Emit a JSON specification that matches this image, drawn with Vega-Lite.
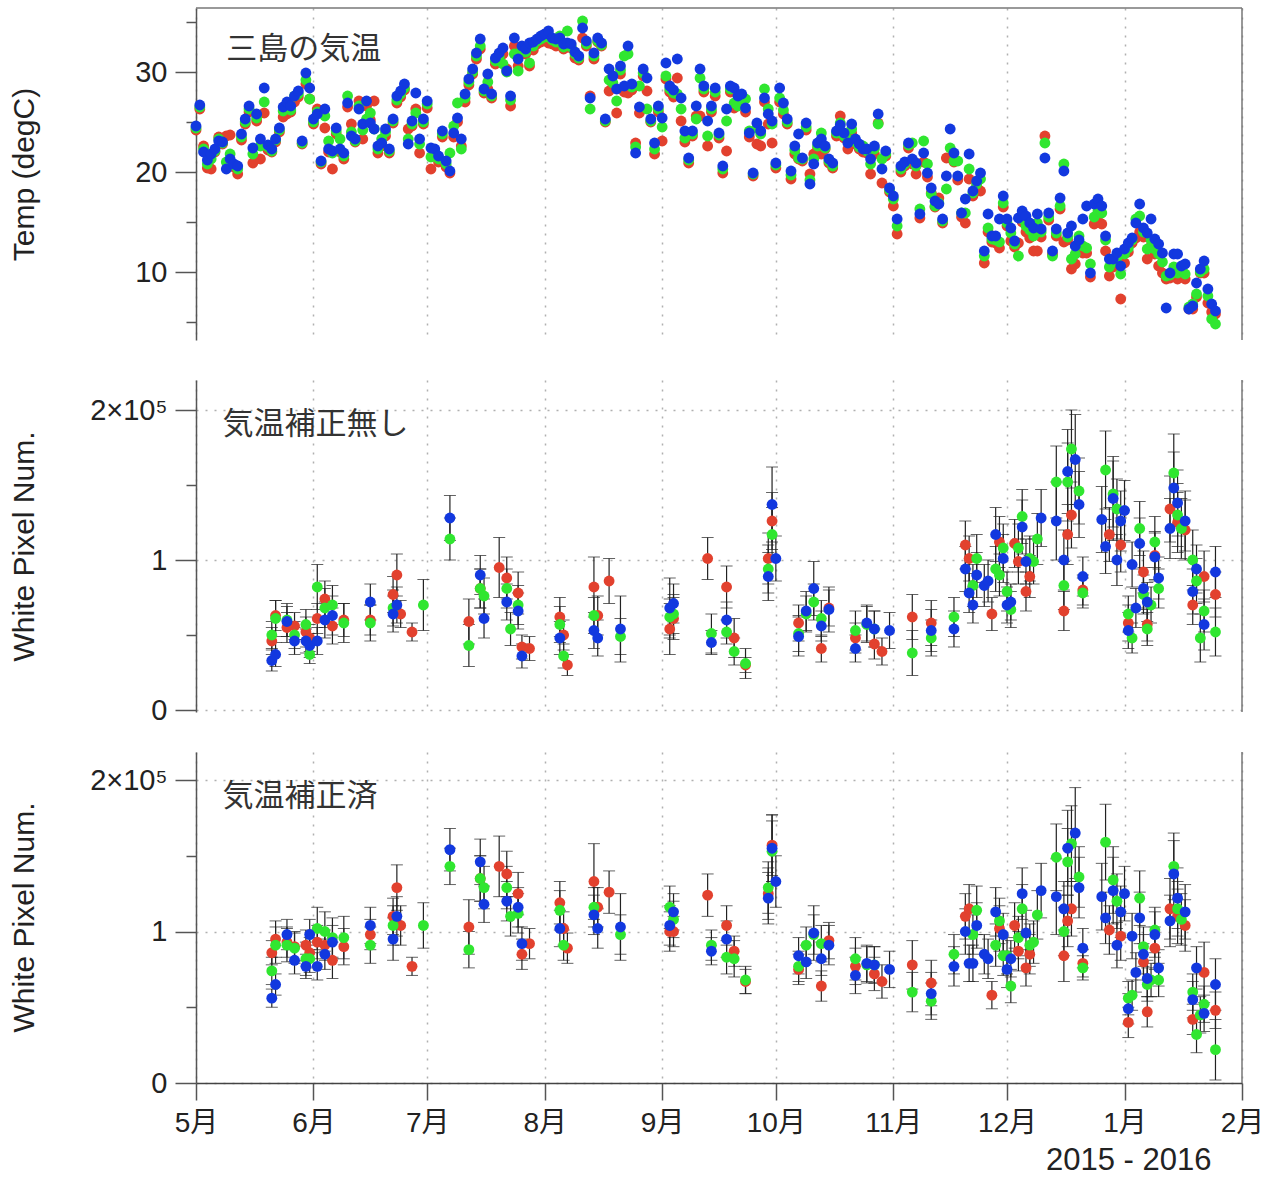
{
"$schema": "https://vega.github.io/schema/vega-lite/v6.json",
"background": "white",
"padding": {"left": 8, "top": 7, "right": 10, "bottom": 5},
"bounds": "flush",
"spacing": 40,
"config": {
  "view": {"stroke": null},
  "font": "Liberation Sans",
  "axis": {"domainColor": "#555", "domainWidth": 1.5, "tickColor": "#555", "tickWidth": 1.5, "labelColor": "#222", "titleColor": "#222", "labelFont": "Liberation Sans, Noto Sans CJK JP", "titleFont": "Liberation Sans", "labelFontSize": 29, "titleFontSize": 30, "titleFontWeight": "normal", "gridColor": "#b0b0b0", "gridDash": [2, 7], "gridWidth": 1.5}
},
"datasets": {
"temp": [
{"d":"2015-05-01","c":"R","t":24.2},{"d":"2015-05-01","c":"G","t":24.4},{"d":"2015-05-01","c":"B","t":24.6},
{"d":"2015-05-02","c":"R","t":26.3},{"d":"2015-05-02","c":"G","t":26.5},{"d":"2015-05-02","c":"B","t":26.7},
{"d":"2015-05-03","c":"R","t":22.6},{"d":"2015-05-03","c":"G","t":22.3},{"d":"2015-05-03","c":"B","t":22.0},
{"d":"2015-05-04","c":"R","t":20.4},{"d":"2015-05-04","c":"G","t":20.8},{"d":"2015-05-04","c":"B","t":21.2},
{"d":"2015-05-05","c":"R","t":20.3},{"d":"2015-05-05","c":"G","t":21.3},{"d":"2015-05-05","c":"B","t":21.8},
{"d":"2015-05-06","c":"R","t":22.0},{"d":"2015-05-06","c":"G","t":22.1},{"d":"2015-05-06","c":"B","t":22.3},
{"d":"2015-05-07","c":"R","t":23.5},{"d":"2015-05-07","c":"G","t":23.3},{"d":"2015-05-07","c":"B","t":23.1},
{"d":"2015-05-08","c":"R","t":22.8},{"d":"2015-05-08","c":"G","t":22.9},{"d":"2015-05-08","c":"B","t":23.0},
{"d":"2015-05-09","c":"R","t":23.6},{"d":"2015-05-09","c":"G","t":21.0},{"d":"2015-05-09","c":"B","t":20.3},
{"d":"2015-05-10","c":"R","t":23.7},{"d":"2015-05-10","c":"G","t":21.8},{"d":"2015-05-10","c":"B","t":21.3},
{"d":"2015-05-11","c":"R","t":20.5},{"d":"2015-05-11","c":"G","t":20.7},{"d":"2015-05-11","c":"B","t":20.8},
{"d":"2015-05-12","c":"R","t":19.8},{"d":"2015-05-12","c":"G","t":20.3},{"d":"2015-05-12","c":"B","t":20.6},
{"d":"2015-05-13","c":"R","t":23.2},{"d":"2015-05-13","c":"G","t":23.5},{"d":"2015-05-13","c":"B","t":23.8},
{"d":"2015-05-14","c":"R","t":24.8},{"d":"2015-05-14","c":"G","t":25.0},{"d":"2015-05-14","c":"B","t":25.3},
{"d":"2015-05-15","c":"R","t":26.0},{"d":"2015-05-15","c":"G","t":26.3},{"d":"2015-05-15","c":"B","t":26.6},
{"d":"2015-05-16","c":"R","t":20.9},{"d":"2015-05-16","c":"G","t":21.8},{"d":"2015-05-16","c":"B","t":22.4},
{"d":"2015-05-17","c":"R","t":25.1},{"d":"2015-05-17","c":"G","t":25.4},{"d":"2015-05-17","c":"B","t":25.8},
{"d":"2015-05-18","c":"R","t":21.3},{"d":"2015-05-18","c":"G","t":22.6},{"d":"2015-05-18","c":"B","t":23.3},
{"d":"2015-05-19","c":"R","t":25.9},{"d":"2015-05-19","c":"G","t":27.0},{"d":"2015-05-19","c":"B","t":28.4},
{"d":"2015-05-20","c":"R","t":22.2},{"d":"2015-05-20","c":"G","t":22.5},{"d":"2015-05-20","c":"B","t":22.7},
{"d":"2015-05-21","c":"R","t":22.0},{"d":"2015-05-21","c":"G","t":22.1},{"d":"2015-05-21","c":"B","t":22.3},
{"d":"2015-05-22","c":"R","t":23.0},{"d":"2015-05-22","c":"G","t":23.2},{"d":"2015-05-22","c":"B","t":23.3},
{"d":"2015-05-23","c":"R","t":24.0},{"d":"2015-05-23","c":"G","t":24.2},{"d":"2015-05-23","c":"B","t":24.4},
{"d":"2015-05-24","c":"R","t":25.5},{"d":"2015-05-24","c":"G","t":26.1},{"d":"2015-05-24","c":"B","t":26.5},
{"d":"2015-05-25","c":"R","t":25.8},{"d":"2015-05-25","c":"G","t":26.5},{"d":"2015-05-25","c":"B","t":27.0},
{"d":"2015-05-26","c":"R","t":26.0},{"d":"2015-05-26","c":"G","t":26.2},{"d":"2015-05-26","c":"B","t":26.6},
{"d":"2015-05-27","c":"R","t":27.0},{"d":"2015-05-27","c":"G","t":27.6},{"d":"2015-05-27","c":"B","t":27.6},
{"d":"2015-05-28","c":"R","t":27.5},{"d":"2015-05-28","c":"G","t":27.8},{"d":"2015-05-28","c":"B","t":28.1},
{"d":"2015-05-29","c":"R","t":22.8},{"d":"2015-05-29","c":"G","t":22.9},{"d":"2015-05-29","c":"B","t":23.1},
{"d":"2015-05-30","c":"R","t":28.8},{"d":"2015-05-30","c":"G","t":29.2},{"d":"2015-05-30","c":"B","t":29.9},
{"d":"2015-05-31","c":"R","t":27.3},{"d":"2015-05-31","c":"G","t":27.3},{"d":"2015-05-31","c":"B","t":28.4},
{"d":"2015-06-01","c":"R","t":24.8},{"d":"2015-06-01","c":"G","t":25.0},{"d":"2015-06-01","c":"B","t":25.3},
{"d":"2015-06-02","c":"R","t":26.3},{"d":"2015-06-02","c":"G","t":26.0},{"d":"2015-06-02","c":"B","t":25.8},
{"d":"2015-06-03","c":"R","t":20.8},{"d":"2015-06-03","c":"G","t":21.0},{"d":"2015-06-03","c":"B","t":21.1},
{"d":"2015-06-04","c":"R","t":24.4},{"d":"2015-06-04","c":"G","t":25.6},{"d":"2015-06-04","c":"B","t":26.3},
{"d":"2015-06-05","c":"R","t":22.0},{"d":"2015-06-05","c":"G","t":23.1},{"d":"2015-06-05","c":"B","t":22.3},
{"d":"2015-06-06","c":"R","t":20.3},{"d":"2015-06-06","c":"G","t":21.9},{"d":"2015-06-06","c":"B","t":22.1},
{"d":"2015-06-07","c":"R","t":23.8},{"d":"2015-06-07","c":"G","t":24.1},{"d":"2015-06-07","c":"B","t":24.4},
{"d":"2015-06-08","c":"R","t":22.0},{"d":"2015-06-08","c":"G","t":23.3},{"d":"2015-06-08","c":"B","t":22.3},
{"d":"2015-06-09","c":"R","t":21.3},{"d":"2015-06-09","c":"G","t":21.6},{"d":"2015-06-09","c":"B","t":21.9},
{"d":"2015-06-10","c":"R","t":26.5},{"d":"2015-06-10","c":"G","t":27.6},{"d":"2015-06-10","c":"B","t":26.9},
{"d":"2015-06-11","c":"R","t":24.8},{"d":"2015-06-11","c":"G","t":24.0},{"d":"2015-06-11","c":"B","t":23.6},
{"d":"2015-06-12","c":"R","t":23.0},{"d":"2015-06-12","c":"G","t":23.1},{"d":"2015-06-12","c":"B","t":23.3},
{"d":"2015-06-13","c":"R","t":27.1},{"d":"2015-06-13","c":"G","t":26.6},{"d":"2015-06-13","c":"B","t":26.3},
{"d":"2015-06-14","c":"R","t":23.3},{"d":"2015-06-14","c":"G","t":24.2},{"d":"2015-06-14","c":"B","t":24.8},
{"d":"2015-06-15","c":"R","t":26.6},{"d":"2015-06-15","c":"G","t":25.3},{"d":"2015-06-15","c":"B","t":27.1},
{"d":"2015-06-16","c":"R","t":25.2},{"d":"2015-06-16","c":"G","t":25.9},{"d":"2015-06-16","c":"B","t":24.9},
{"d":"2015-06-17","c":"R","t":27.1},{"d":"2015-06-17","c":"G","t":24.3},{"d":"2015-06-17","c":"B","t":24.3},
{"d":"2015-06-18","c":"R","t":21.9},{"d":"2015-06-18","c":"G","t":22.3},{"d":"2015-06-18","c":"B","t":22.6},
{"d":"2015-06-19","c":"R","t":22.6},{"d":"2015-06-19","c":"G","t":23.3},{"d":"2015-06-19","c":"B","t":22.9},
{"d":"2015-06-20","c":"R","t":23.6},{"d":"2015-06-20","c":"G","t":24.0},{"d":"2015-06-20","c":"B","t":24.3},
{"d":"2015-06-21","c":"R","t":21.9},{"d":"2015-06-21","c":"G","t":22.1},{"d":"2015-06-21","c":"B","t":22.3},
{"d":"2015-06-22","c":"R","t":24.9},{"d":"2015-06-22","c":"G","t":25.1},{"d":"2015-06-22","c":"B","t":25.3},
{"d":"2015-06-23","c":"R","t":26.9},{"d":"2015-06-23","c":"G","t":27.2},{"d":"2015-06-23","c":"B","t":27.6},
{"d":"2015-06-24","c":"R","t":27.5},{"d":"2015-06-24","c":"G","t":27.8},{"d":"2015-06-24","c":"B","t":28.1},
{"d":"2015-06-25","c":"R","t":28.2},{"d":"2015-06-25","c":"G","t":28.4},{"d":"2015-06-25","c":"B","t":28.8},
{"d":"2015-06-26","c":"R","t":24.3},{"d":"2015-06-26","c":"G","t":23.3},{"d":"2015-06-26","c":"B","t":22.8},
{"d":"2015-06-27","c":"R","t":24.6},{"d":"2015-06-27","c":"G","t":24.8},{"d":"2015-06-27","c":"B","t":25.1},
{"d":"2015-06-28","c":"R","t":26.3},{"d":"2015-06-28","c":"G","t":25.9},{"d":"2015-06-28","c":"B","t":27.9},
{"d":"2015-06-29","c":"R","t":21.9},{"d":"2015-06-29","c":"G","t":22.8},{"d":"2015-06-29","c":"B","t":23.3},
{"d":"2015-06-30","c":"R","t":24.8},{"d":"2015-06-30","c":"G","t":25.0},{"d":"2015-06-30","c":"B","t":25.3},
{"d":"2015-07-01","c":"R","t":26.4},{"d":"2015-07-01","c":"G","t":26.8},{"d":"2015-07-01","c":"B","t":27.1},
{"d":"2015-07-02","c":"R","t":20.3},{"d":"2015-07-02","c":"G","t":21.5},{"d":"2015-07-02","c":"B","t":22.4},
{"d":"2015-07-03","c":"R","t":21.8},{"d":"2015-07-03","c":"G","t":22.0},{"d":"2015-07-03","c":"B","t":22.3},
{"d":"2015-07-04","c":"R","t":21.0},{"d":"2015-07-04","c":"G","t":21.3},{"d":"2015-07-04","c":"B","t":21.6},
{"d":"2015-07-05","c":"R","t":23.5},{"d":"2015-07-05","c":"G","t":23.8},{"d":"2015-07-05","c":"B","t":24.1},
{"d":"2015-07-06","c":"R","t":20.5},{"d":"2015-07-06","c":"G","t":20.8},{"d":"2015-07-06","c":"B","t":21.1},
{"d":"2015-07-07","c":"R","t":19.9},{"d":"2015-07-07","c":"G","t":21.9},{"d":"2015-07-07","c":"B","t":20.1},
{"d":"2015-07-08","c":"R","t":23.5},{"d":"2015-07-08","c":"G","t":24.6},{"d":"2015-07-08","c":"B","t":23.9},
{"d":"2015-07-09","c":"R","t":25.0},{"d":"2015-07-09","c":"G","t":26.9},{"d":"2015-07-09","c":"B","t":25.4},
{"d":"2015-07-10","c":"R","t":22.6},{"d":"2015-07-10","c":"G","t":22.3},{"d":"2015-07-10","c":"B","t":23.3},
{"d":"2015-07-11","c":"R","t":27.0},{"d":"2015-07-11","c":"G","t":27.4},{"d":"2015-07-11","c":"B","t":27.8},
{"d":"2015-07-12","c":"R","t":28.7},{"d":"2015-07-12","c":"G","t":29.0},{"d":"2015-07-12","c":"B","t":29.3},
{"d":"2015-07-13","c":"R","t":29.8},{"d":"2015-07-13","c":"G","t":30.0},{"d":"2015-07-13","c":"B","t":30.3},
{"d":"2015-07-14","c":"R","t":31.3},{"d":"2015-07-14","c":"G","t":31.6},{"d":"2015-07-14","c":"B","t":31.9},
{"d":"2015-07-15","c":"R","t":32.3},{"d":"2015-07-15","c":"G","t":32.6},{"d":"2015-07-15","c":"B","t":33.3},
{"d":"2015-07-16","c":"R","t":27.9},{"d":"2015-07-16","c":"G","t":28.1},{"d":"2015-07-16","c":"B","t":28.3},
{"d":"2015-07-17","c":"R","t":28.3},{"d":"2015-07-17","c":"G","t":29.0},{"d":"2015-07-17","c":"B","t":29.8},
{"d":"2015-07-18","c":"R","t":27.4},{"d":"2015-07-18","c":"G","t":27.6},{"d":"2015-07-18","c":"B","t":27.8},
{"d":"2015-07-19","c":"R","t":30.8},{"d":"2015-07-19","c":"G","t":31.1},{"d":"2015-07-19","c":"B","t":31.4},
{"d":"2015-07-20","c":"R","t":31.2},{"d":"2015-07-20","c":"G","t":31.5},{"d":"2015-07-20","c":"B","t":31.9},
{"d":"2015-07-21","c":"R","t":31.8},{"d":"2015-07-21","c":"G","t":30.8},{"d":"2015-07-21","c":"B","t":32.4},
{"d":"2015-07-22","c":"R","t":30.3},{"d":"2015-07-22","c":"G","t":30.0},{"d":"2015-07-22","c":"B","t":30.1},
{"d":"2015-07-23","c":"R","t":26.6},{"d":"2015-07-23","c":"G","t":27.2},{"d":"2015-07-23","c":"B","t":27.6},
{"d":"2015-07-24","c":"R","t":32.6},{"d":"2015-07-24","c":"G","t":31.8},{"d":"2015-07-24","c":"B","t":33.4},
{"d":"2015-07-25","c":"R","t":30.6},{"d":"2015-07-25","c":"G","t":30.1},{"d":"2015-07-25","c":"B","t":31.3},
{"d":"2015-07-26","c":"R","t":31.9},{"d":"2015-07-26","c":"G","t":32.3},{"d":"2015-07-26","c":"B","t":32.6},
{"d":"2015-07-27","c":"R","t":31.8},{"d":"2015-07-27","c":"G","t":32.0},{"d":"2015-07-27","c":"B","t":32.3},
{"d":"2015-07-28","c":"R","t":30.6},{"d":"2015-07-28","c":"G","t":30.9},{"d":"2015-07-28","c":"B","t":32.9},
{"d":"2015-07-29","c":"R","t":32.2},{"d":"2015-07-29","c":"G","t":32.6},{"d":"2015-07-29","c":"B","t":33.0},
{"d":"2015-07-30","c":"R","t":32.8},{"d":"2015-07-30","c":"G","t":33.1},{"d":"2015-07-30","c":"B","t":33.3},
{"d":"2015-07-31","c":"R","t":33.0},{"d":"2015-07-31","c":"G","t":33.3},{"d":"2015-07-31","c":"B","t":33.6},
{"d":"2015-08-01","c":"R","t":33.2},{"d":"2015-08-01","c":"G","t":33.5},{"d":"2015-08-01","c":"B","t":33.8},
{"d":"2015-08-02","c":"R","t":32.9},{"d":"2015-08-02","c":"G","t":33.7},{"d":"2015-08-02","c":"B","t":34.1},
{"d":"2015-08-03","c":"R","t":32.8},{"d":"2015-08-03","c":"G","t":33.2},{"d":"2015-08-03","c":"B","t":33.4},
{"d":"2015-08-04","c":"R","t":32.6},{"d":"2015-08-04","c":"G","t":33.0},{"d":"2015-08-04","c":"B","t":33.3},
{"d":"2015-08-05","c":"R","t":33.0},{"d":"2015-08-05","c":"G","t":33.6},{"d":"2015-08-05","c":"B","t":33.4},
{"d":"2015-08-06","c":"R","t":32.3},{"d":"2015-08-06","c":"G","t":32.5},{"d":"2015-08-06","c":"B","t":32.8},
{"d":"2015-08-07","c":"R","t":32.5},{"d":"2015-08-07","c":"G","t":34.1},{"d":"2015-08-07","c":"B","t":32.9},
{"d":"2015-08-08","c":"R","t":32.4},{"d":"2015-08-08","c":"G","t":32.5},{"d":"2015-08-08","c":"B","t":32.8},
{"d":"2015-08-09","c":"R","t":31.4},{"d":"2015-08-09","c":"G","t":31.8},{"d":"2015-08-09","c":"B","t":32.0},
{"d":"2015-08-10","c":"R","t":31.2},{"d":"2015-08-10","c":"G","t":31.4},{"d":"2015-08-10","c":"B","t":31.6},
{"d":"2015-08-11","c":"R","t":33.4},{"d":"2015-08-11","c":"G","t":35.1},{"d":"2015-08-11","c":"B","t":34.4},
{"d":"2015-08-12","c":"R","t":32.6},{"d":"2015-08-12","c":"G","t":32.8},{"d":"2015-08-12","c":"B","t":33.1},
{"d":"2015-08-13","c":"R","t":27.6},{"d":"2015-08-13","c":"G","t":26.3},{"d":"2015-08-13","c":"B","t":27.4},
{"d":"2015-08-14","c":"R","t":31.3},{"d":"2015-08-14","c":"G","t":31.6},{"d":"2015-08-14","c":"B","t":31.9},
{"d":"2015-08-15","c":"R","t":33.0},{"d":"2015-08-15","c":"G","t":33.1},{"d":"2015-08-15","c":"B","t":33.4},
{"d":"2015-08-16","c":"R","t":32.6},{"d":"2015-08-16","c":"G","t":32.7},{"d":"2015-08-16","c":"B","t":32.9},
{"d":"2015-08-17","c":"R","t":25.0},{"d":"2015-08-17","c":"G","t":25.1},{"d":"2015-08-17","c":"B","t":25.3},
{"d":"2015-08-18","c":"R","t":28.1},{"d":"2015-08-18","c":"G","t":29.2},{"d":"2015-08-18","c":"B","t":30.3},
{"d":"2015-08-19","c":"R","t":28.6},{"d":"2015-08-19","c":"G","t":28.9},{"d":"2015-08-19","c":"B","t":29.6},
{"d":"2015-08-20","c":"R","t":25.9},{"d":"2015-08-20","c":"G","t":27.1},{"d":"2015-08-20","c":"B","t":28.3},
{"d":"2015-08-21","c":"R","t":29.8},{"d":"2015-08-21","c":"G","t":30.2},{"d":"2015-08-21","c":"B","t":30.6},
{"d":"2015-08-22","c":"R","t":28.0},{"d":"2015-08-22","c":"G","t":31.6},{"d":"2015-08-22","c":"B","t":28.6},
{"d":"2015-08-23","c":"R","t":27.9},{"d":"2015-08-23","c":"G","t":31.8},{"d":"2015-08-23","c":"B","t":32.6},
{"d":"2015-08-24","c":"R","t":28.2},{"d":"2015-08-24","c":"G","t":28.5},{"d":"2015-08-24","c":"B","t":28.8},
{"d":"2015-08-25","c":"R","t":22.9},{"d":"2015-08-25","c":"G","t":22.5},{"d":"2015-08-25","c":"B","t":21.9},
{"d":"2015-08-26","c":"R","t":25.9},{"d":"2015-08-26","c":"G","t":28.6},{"d":"2015-08-26","c":"B","t":26.5},
{"d":"2015-08-27","c":"R","t":29.6},{"d":"2015-08-27","c":"G","t":29.9},{"d":"2015-08-27","c":"B","t":30.3},
{"d":"2015-08-28","c":"R","t":28.1},{"d":"2015-08-28","c":"G","t":26.3},{"d":"2015-08-28","c":"B","t":29.4},
{"d":"2015-08-29","c":"R","t":25.0},{"d":"2015-08-29","c":"G","t":25.1},{"d":"2015-08-29","c":"B","t":25.3},
{"d":"2015-08-30","c":"R","t":21.8},{"d":"2015-08-30","c":"G","t":22.3},{"d":"2015-08-30","c":"B","t":22.9},
{"d":"2015-08-31","c":"R","t":26.0},{"d":"2015-08-31","c":"G","t":26.3},{"d":"2015-08-31","c":"B","t":26.6},
{"d":"2015-09-01","c":"R","t":23.1},{"d":"2015-09-01","c":"G","t":24.5},{"d":"2015-09-01","c":"B","t":25.4},
{"d":"2015-09-02","c":"R","t":29.3},{"d":"2015-09-02","c":"G","t":29.6},{"d":"2015-09-02","c":"B","t":30.9},
{"d":"2015-09-03","c":"R","t":28.0},{"d":"2015-09-03","c":"G","t":28.3},{"d":"2015-09-03","c":"B","t":28.6},
{"d":"2015-09-04","c":"R","t":27.5},{"d":"2015-09-04","c":"G","t":27.9},{"d":"2015-09-04","c":"B","t":28.2},
{"d":"2015-09-05","c":"R","t":29.4},{"d":"2015-09-05","c":"G","t":27.8},{"d":"2015-09-05","c":"B","t":31.3},
{"d":"2015-09-06","c":"R","t":25.1},{"d":"2015-09-06","c":"G","t":26.3},{"d":"2015-09-06","c":"B","t":27.4},
{"d":"2015-09-07","c":"R","t":23.0},{"d":"2015-09-07","c":"G","t":23.4},{"d":"2015-09-07","c":"B","t":24.1},
{"d":"2015-09-08","c":"R","t":20.9},{"d":"2015-09-08","c":"G","t":21.2},{"d":"2015-09-08","c":"B","t":21.4},
{"d":"2015-09-09","c":"R","t":23.6},{"d":"2015-09-09","c":"G","t":23.8},{"d":"2015-09-09","c":"B","t":24.1},
{"d":"2015-09-10","c":"R","t":25.6},{"d":"2015-09-10","c":"G","t":25.3},{"d":"2015-09-10","c":"B","t":26.6},
{"d":"2015-09-11","c":"R","t":25.6},{"d":"2015-09-11","c":"G","t":29.4},{"d":"2015-09-11","c":"B","t":30.3},
{"d":"2015-09-12","c":"R","t":28.0},{"d":"2015-09-12","c":"G","t":28.3},{"d":"2015-09-12","c":"B","t":28.6},
{"d":"2015-09-13","c":"R","t":22.6},{"d":"2015-09-13","c":"G","t":23.6},{"d":"2015-09-13","c":"B","t":25.1},
{"d":"2015-09-14","c":"R","t":26.0},{"d":"2015-09-14","c":"G","t":26.3},{"d":"2015-09-14","c":"B","t":26.6},
{"d":"2015-09-15","c":"R","t":27.6},{"d":"2015-09-15","c":"G","t":28.0},{"d":"2015-09-15","c":"B","t":28.4},
{"d":"2015-09-16","c":"R","t":23.4},{"d":"2015-09-16","c":"G","t":23.7},{"d":"2015-09-16","c":"B","t":23.9},
{"d":"2015-09-17","c":"R","t":19.9},{"d":"2015-09-17","c":"G","t":20.3},{"d":"2015-09-17","c":"B","t":20.6},
{"d":"2015-09-18","c":"R","t":22.1},{"d":"2015-09-18","c":"G","t":25.1},{"d":"2015-09-18","c":"B","t":26.3},
{"d":"2015-09-19","c":"R","t":28.0},{"d":"2015-09-19","c":"G","t":28.3},{"d":"2015-09-19","c":"B","t":28.6},
{"d":"2015-09-20","c":"R","t":26.4},{"d":"2015-09-20","c":"G","t":26.9},{"d":"2015-09-20","c":"B","t":28.4},
{"d":"2015-09-21","c":"R","t":27.0},{"d":"2015-09-21","c":"G","t":26.6},{"d":"2015-09-21","c":"B","t":27.6},
{"d":"2015-09-22","c":"R","t":27.2},{"d":"2015-09-22","c":"G","t":27.5},{"d":"2015-09-22","c":"B","t":27.8},
{"d":"2015-09-23","c":"R","t":26.0},{"d":"2015-09-23","c":"G","t":27.3},{"d":"2015-09-23","c":"B","t":26.4},
{"d":"2015-09-24","c":"R","t":23.5},{"d":"2015-09-24","c":"G","t":24.1},{"d":"2015-09-24","c":"B","t":23.9},
{"d":"2015-09-25","c":"R","t":19.6},{"d":"2015-09-25","c":"G","t":19.8},{"d":"2015-09-25","c":"B","t":19.9},
{"d":"2015-09-26","c":"R","t":22.8},{"d":"2015-09-26","c":"G","t":24.4},{"d":"2015-09-26","c":"B","t":24.9},
{"d":"2015-09-27","c":"R","t":22.6},{"d":"2015-09-27","c":"G","t":23.8},{"d":"2015-09-27","c":"B","t":24.1},
{"d":"2015-09-28","c":"R","t":27.0},{"d":"2015-09-28","c":"G","t":28.3},{"d":"2015-09-28","c":"B","t":27.4},
{"d":"2015-09-29","c":"R","t":24.8},{"d":"2015-09-29","c":"G","t":26.3},{"d":"2015-09-29","c":"B","t":25.8},
{"d":"2015-09-30","c":"R","t":22.9},{"d":"2015-09-30","c":"G","t":24.8},{"d":"2015-09-30","c":"B","t":25.1},
{"d":"2015-10-01","c":"R","t":20.4},{"d":"2015-10-01","c":"G","t":20.7},{"d":"2015-10-01","c":"B","t":20.9},
{"d":"2015-10-02","c":"R","t":27.0},{"d":"2015-10-02","c":"G","t":27.4},{"d":"2015-10-02","c":"B","t":28.4},
{"d":"2015-10-03","c":"R","t":25.8},{"d":"2015-10-03","c":"G","t":26.2},{"d":"2015-10-03","c":"B","t":26.9},
{"d":"2015-10-04","c":"R","t":24.8},{"d":"2015-10-04","c":"G","t":25.0},{"d":"2015-10-04","c":"B","t":25.3},
{"d":"2015-10-05","c":"R","t":19.3},{"d":"2015-10-05","c":"G","t":19.7},{"d":"2015-10-05","c":"B","t":20.1},
{"d":"2015-10-06","c":"R","t":21.8},{"d":"2015-10-06","c":"G","t":22.2},{"d":"2015-10-06","c":"B","t":22.6},
{"d":"2015-10-07","c":"R","t":21.3},{"d":"2015-10-07","c":"G","t":21.4},{"d":"2015-10-07","c":"B","t":23.8},
{"d":"2015-10-08","c":"R","t":21.1},{"d":"2015-10-08","c":"G","t":21.3},{"d":"2015-10-08","c":"B","t":21.4},
{"d":"2015-10-09","c":"R","t":24.2},{"d":"2015-10-09","c":"G","t":24.5},{"d":"2015-10-09","c":"B","t":24.9},
{"d":"2015-10-10","c":"R","t":19.8},{"d":"2015-10-10","c":"G","t":19.2},{"d":"2015-10-10","c":"B","t":18.8},
{"d":"2015-10-11","c":"R","t":21.8},{"d":"2015-10-11","c":"G","t":21.3},{"d":"2015-10-11","c":"B","t":20.8},
{"d":"2015-10-12","c":"R","t":22.3},{"d":"2015-10-12","c":"G","t":22.6},{"d":"2015-10-12","c":"B","t":22.9},
{"d":"2015-10-13","c":"R","t":21.8},{"d":"2015-10-13","c":"G","t":23.9},{"d":"2015-10-13","c":"B","t":23.3},
{"d":"2015-10-14","c":"R","t":22.3},{"d":"2015-10-14","c":"G","t":22.4},{"d":"2015-10-14","c":"B","t":22.6},
{"d":"2015-10-15","c":"R","t":20.9},{"d":"2015-10-15","c":"G","t":21.1},{"d":"2015-10-15","c":"B","t":21.3},
{"d":"2015-10-16","c":"R","t":20.4},{"d":"2015-10-16","c":"G","t":20.6},{"d":"2015-10-16","c":"B","t":20.9},
{"d":"2015-10-17","c":"R","t":23.6},{"d":"2015-10-17","c":"G","t":23.9},{"d":"2015-10-17","c":"B","t":24.1},
{"d":"2015-10-18","c":"R","t":25.6},{"d":"2015-10-18","c":"G","t":24.9},{"d":"2015-10-18","c":"B","t":24.7},
{"d":"2015-10-19","c":"R","t":23.4},{"d":"2015-10-19","c":"G","t":23.6},{"d":"2015-10-19","c":"B","t":23.9},
{"d":"2015-10-20","c":"R","t":22.3},{"d":"2015-10-20","c":"G","t":23.3},{"d":"2015-10-20","c":"B","t":22.9},
{"d":"2015-10-21","c":"R","t":23.9},{"d":"2015-10-21","c":"G","t":24.3},{"d":"2015-10-21","c":"B","t":24.8},
{"d":"2015-10-22","c":"R","t":22.8},{"d":"2015-10-22","c":"G","t":23.0},{"d":"2015-10-22","c":"B","t":23.3},
{"d":"2015-10-23","c":"R","t":22.3},{"d":"2015-10-23","c":"G","t":22.5},{"d":"2015-10-23","c":"B","t":22.8},
{"d":"2015-10-24","c":"R","t":22.0},{"d":"2015-10-24","c":"G","t":22.6},{"d":"2015-10-24","c":"B","t":22.3},
{"d":"2015-10-25","c":"R","t":21.9},{"d":"2015-10-25","c":"G","t":22.1},{"d":"2015-10-25","c":"B","t":22.3},
{"d":"2015-10-26","c":"R","t":19.8},{"d":"2015-10-26","c":"G","t":20.8},{"d":"2015-10-26","c":"B","t":21.3},
{"d":"2015-10-27","c":"R","t":21.8},{"d":"2015-10-27","c":"G","t":22.3},{"d":"2015-10-27","c":"B","t":22.6},
{"d":"2015-10-28","c":"R","t":24.9},{"d":"2015-10-28","c":"G","t":24.8},{"d":"2015-10-28","c":"B","t":25.8},
{"d":"2015-10-29","c":"R","t":18.9},{"d":"2015-10-29","c":"G","t":21.3},{"d":"2015-10-29","c":"B","t":20.3},
{"d":"2015-10-30","c":"R","t":21.6},{"d":"2015-10-30","c":"G","t":21.8},{"d":"2015-10-30","c":"B","t":22.1},
{"d":"2015-10-31","c":"R","t":18.0},{"d":"2015-10-31","c":"G","t":18.2},{"d":"2015-10-31","c":"B","t":18.4},
{"d":"2015-11-01","c":"R","t":16.6},{"d":"2015-11-01","c":"G","t":17.3},{"d":"2015-11-01","c":"B","t":17.6},
{"d":"2015-11-02","c":"R","t":13.8},{"d":"2015-11-02","c":"G","t":14.6},{"d":"2015-11-02","c":"B","t":15.3},
{"d":"2015-11-03","c":"R","t":20.0},{"d":"2015-11-03","c":"G","t":20.3},{"d":"2015-11-03","c":"B","t":20.6},
{"d":"2015-11-04","c":"R","t":20.6},{"d":"2015-11-04","c":"G","t":20.8},{"d":"2015-11-04","c":"B","t":21.0},
{"d":"2015-11-05","c":"R","t":22.4},{"d":"2015-11-05","c":"G","t":22.7},{"d":"2015-11-05","c":"B","t":22.9},
{"d":"2015-11-06","c":"R","t":20.8},{"d":"2015-11-06","c":"G","t":22.9},{"d":"2015-11-06","c":"B","t":21.3},
{"d":"2015-11-07","c":"R","t":19.8},{"d":"2015-11-07","c":"G","t":20.6},{"d":"2015-11-07","c":"B","t":20.9},
{"d":"2015-11-08","c":"R","t":15.4},{"d":"2015-11-08","c":"G","t":16.3},{"d":"2015-11-08","c":"B","t":15.8},
{"d":"2015-11-09","c":"R","t":21.0},{"d":"2015-11-09","c":"G","t":23.1},{"d":"2015-11-09","c":"B","t":21.9},
{"d":"2015-11-10","c":"R","t":19.5},{"d":"2015-11-10","c":"G","t":20.8},{"d":"2015-11-10","c":"B","t":19.9},
{"d":"2015-11-11","c":"R","t":17.9},{"d":"2015-11-11","c":"G","t":17.8},{"d":"2015-11-11","c":"B","t":18.4},
{"d":"2015-11-12","c":"R","t":16.5},{"d":"2015-11-12","c":"G","t":16.6},{"d":"2015-11-12","c":"B","t":17.1},
{"d":"2015-11-13","c":"R","t":17.4},{"d":"2015-11-13","c":"G","t":16.9},{"d":"2015-11-13","c":"B","t":16.8},
{"d":"2015-11-14","c":"R","t":14.9},{"d":"2015-11-14","c":"G","t":15.1},{"d":"2015-11-14","c":"B","t":15.3},
{"d":"2015-11-15","c":"R","t":21.4},{"d":"2015-11-15","c":"G","t":18.3},{"d":"2015-11-15","c":"B","t":19.6},
{"d":"2015-11-16","c":"R","t":21.4},{"d":"2015-11-16","c":"G","t":22.4},{"d":"2015-11-16","c":"B","t":24.3},
{"d":"2015-11-17","c":"R","t":21.0},{"d":"2015-11-17","c":"G","t":21.1},{"d":"2015-11-17","c":"B","t":21.9},
{"d":"2015-11-18","c":"R","t":19.2},{"d":"2015-11-18","c":"G","t":21.1},{"d":"2015-11-18","c":"B","t":19.6},
{"d":"2015-11-19","c":"R","t":15.5},{"d":"2015-11-19","c":"G","t":15.9},{"d":"2015-11-19","c":"B","t":15.9},
{"d":"2015-11-20","c":"R","t":14.9},{"d":"2015-11-20","c":"G","t":15.9},{"d":"2015-11-20","c":"B","t":17.3},
{"d":"2015-11-21","c":"R","t":19.3},{"d":"2015-11-21","c":"G","t":20.3},{"d":"2015-11-21","c":"B","t":21.8},
{"d":"2015-11-22","c":"R","t":17.6},{"d":"2015-11-22","c":"G","t":17.9},{"d":"2015-11-22","c":"B","t":18.1},
{"d":"2015-11-23","c":"R","t":18.6},{"d":"2015-11-23","c":"G","t":18.8},{"d":"2015-11-23","c":"B","t":19.1},
{"d":"2015-11-24","c":"R","t":18.1},{"d":"2015-11-24","c":"G","t":19.3},{"d":"2015-11-24","c":"B","t":19.9},
{"d":"2015-11-25","c":"R","t":10.9},{"d":"2015-11-25","c":"G","t":11.6},{"d":"2015-11-25","c":"B","t":12.1},
{"d":"2015-11-26","c":"R","t":14.0},{"d":"2015-11-26","c":"G","t":14.4},{"d":"2015-11-26","c":"B","t":15.8},
{"d":"2015-11-27","c":"R","t":13.0},{"d":"2015-11-27","c":"G","t":13.3},{"d":"2015-11-27","c":"B","t":13.6},
{"d":"2015-11-28","c":"R","t":12.9},{"d":"2015-11-28","c":"G","t":13.2},{"d":"2015-11-28","c":"B","t":13.6},
{"d":"2015-11-29","c":"R","t":12.4},{"d":"2015-11-29","c":"G","t":13.0},{"d":"2015-11-29","c":"B","t":15.3},
{"d":"2015-11-30","c":"R","t":16.5},{"d":"2015-11-30","c":"G","t":16.9},{"d":"2015-11-30","c":"B","t":17.6},
{"d":"2015-12-01","c":"R","t":14.6},{"d":"2015-12-01","c":"G","t":14.9},{"d":"2015-12-01","c":"B","t":15.3},
{"d":"2015-12-02","c":"R","t":13.1},{"d":"2015-12-02","c":"G","t":13.9},{"d":"2015-12-02","c":"B","t":14.4},
{"d":"2015-12-03","c":"R","t":12.5},{"d":"2015-12-03","c":"G","t":12.8},{"d":"2015-12-03","c":"B","t":13.1},
{"d":"2015-12-04","c":"R","t":12.9},{"d":"2015-12-04","c":"G","t":11.6},{"d":"2015-12-04","c":"B","t":15.4},
{"d":"2015-12-05","c":"R","t":15.0},{"d":"2015-12-05","c":"G","t":15.3},{"d":"2015-12-05","c":"B","t":16.1},
{"d":"2015-12-06","c":"R","t":14.0},{"d":"2015-12-06","c":"G","t":14.6},{"d":"2015-12-06","c":"B","t":15.6},
{"d":"2015-12-07","c":"R","t":13.4},{"d":"2015-12-07","c":"G","t":14.2},{"d":"2015-12-07","c":"B","t":14.9},
{"d":"2015-12-08","c":"R","t":12.1},{"d":"2015-12-08","c":"G","t":13.6},{"d":"2015-12-08","c":"B","t":14.4},
{"d":"2015-12-09","c":"R","t":12.1},{"d":"2015-12-09","c":"G","t":14.9},{"d":"2015-12-09","c":"B","t":15.8},
{"d":"2015-12-10","c":"R","t":13.5},{"d":"2015-12-10","c":"G","t":14.0},{"d":"2015-12-10","c":"B","t":14.3},
{"d":"2015-12-11","c":"R","t":23.6},{"d":"2015-12-11","c":"G","t":22.9},{"d":"2015-12-11","c":"B","t":21.4},
{"d":"2015-12-12","c":"R","t":15.2},{"d":"2015-12-12","c":"G","t":15.5},{"d":"2015-12-12","c":"B","t":15.9},
{"d":"2015-12-13","c":"R","t":11.8},{"d":"2015-12-13","c":"G","t":11.6},{"d":"2015-12-13","c":"B","t":12.1},
{"d":"2015-12-14","c":"R","t":13.6},{"d":"2015-12-14","c":"G","t":13.9},{"d":"2015-12-14","c":"B","t":14.3},
{"d":"2015-12-15","c":"R","t":16.3},{"d":"2015-12-15","c":"G","t":16.6},{"d":"2015-12-15","c":"B","t":17.4},
{"d":"2015-12-16","c":"R","t":13.0},{"d":"2015-12-16","c":"G","t":20.8},{"d":"2015-12-16","c":"B","t":20.1},
{"d":"2015-12-17","c":"R","t":13.2},{"d":"2015-12-17","c":"G","t":13.5},{"d":"2015-12-17","c":"B","t":13.9},
{"d":"2015-12-18","c":"R","t":10.3},{"d":"2015-12-18","c":"G","t":11.3},{"d":"2015-12-18","c":"B","t":14.6},
{"d":"2015-12-19","c":"R","t":10.8},{"d":"2015-12-19","c":"G","t":11.8},{"d":"2015-12-19","c":"B","t":12.6},
{"d":"2015-12-20","c":"R","t":12.8},{"d":"2015-12-20","c":"G","t":13.6},{"d":"2015-12-20","c":"B","t":13.2},
{"d":"2015-12-21","c":"R","t":11.9},{"d":"2015-12-21","c":"G","t":12.6},{"d":"2015-12-21","c":"B","t":15.3},
{"d":"2015-12-22","c":"R","t":11.9},{"d":"2015-12-22","c":"G","t":12.4},{"d":"2015-12-22","c":"B","t":16.6},
{"d":"2015-12-23","c":"R","t":9.5},{"d":"2015-12-23","c":"G","t":10.8},{"d":"2015-12-23","c":"B","t":9.9},
{"d":"2015-12-24","c":"R","t":14.8},{"d":"2015-12-24","c":"G","t":15.5},{"d":"2015-12-24","c":"B","t":16.8},
{"d":"2015-12-25","c":"R","t":15.6},{"d":"2015-12-25","c":"G","t":16.1},{"d":"2015-12-25","c":"B","t":17.3},
{"d":"2015-12-26","c":"R","t":14.8},{"d":"2015-12-26","c":"G","t":15.9},{"d":"2015-12-26","c":"B","t":16.6},
{"d":"2015-12-27","c":"R","t":12.1},{"d":"2015-12-27","c":"G","t":13.2},{"d":"2015-12-27","c":"B","t":13.6},
{"d":"2015-12-28","c":"R","t":9.6},{"d":"2015-12-28","c":"G","t":10.5},{"d":"2015-12-28","c":"B","t":11.3},
{"d":"2015-12-29","c":"R","t":10.5},{"d":"2015-12-29","c":"G","t":11.0},{"d":"2015-12-29","c":"B","t":11.3},
{"d":"2015-12-30","c":"R","t":11.0},{"d":"2015-12-30","c":"G","t":11.4},{"d":"2015-12-30","c":"B","t":11.9},
{"d":"2015-12-31","c":"R","t":7.3},{"d":"2015-12-31","c":"G","t":9.8},{"d":"2015-12-31","c":"B","t":10.6},
{"d":"2016-01-01","c":"R","t":10.9},{"d":"2016-01-01","c":"G","t":11.8},{"d":"2016-01-01","c":"B","t":12.3},
{"d":"2016-01-02","c":"R","t":12.0},{"d":"2016-01-02","c":"G","t":12.4},{"d":"2016-01-02","c":"B","t":12.9},
{"d":"2016-01-03","c":"R","t":12.9},{"d":"2016-01-03","c":"G","t":13.2},{"d":"2016-01-03","c":"B","t":13.4},
{"d":"2016-01-04","c":"R","t":13.4},{"d":"2016-01-04","c":"G","t":15.3},{"d":"2016-01-04","c":"B","t":14.9},
{"d":"2016-01-05","c":"R","t":14.0},{"d":"2016-01-05","c":"G","t":15.6},{"d":"2016-01-05","c":"B","t":16.8},
{"d":"2016-01-06","c":"R","t":13.5},{"d":"2016-01-06","c":"G","t":14.0},{"d":"2016-01-06","c":"B","t":14.4},
{"d":"2016-01-07","c":"R","t":11.3},{"d":"2016-01-07","c":"G","t":12.3},{"d":"2016-01-07","c":"B","t":13.9},
{"d":"2016-01-08","c":"R","t":12.6},{"d":"2016-01-08","c":"G","t":13.2},{"d":"2016-01-08","c":"B","t":15.3},
{"d":"2016-01-09","c":"R","t":11.8},{"d":"2016-01-09","c":"G","t":12.3},{"d":"2016-01-09","c":"B","t":13.3},
{"d":"2016-01-10","c":"R","t":10.6},{"d":"2016-01-10","c":"G","t":11.8},{"d":"2016-01-10","c":"B","t":12.8},
{"d":"2016-01-11","c":"R","t":9.9},{"d":"2016-01-11","c":"G","t":11.0},{"d":"2016-01-11","c":"B","t":11.9},
{"d":"2016-01-12","c":"R","t":9.3},{"d":"2016-01-12","c":"G","t":9.6},{"d":"2016-01-12","c":"B","t":6.4},
{"d":"2016-01-13","c":"R","t":9.4},{"d":"2016-01-13","c":"G","t":9.7},{"d":"2016-01-13","c":"B","t":9.9},
{"d":"2016-01-14","c":"R","t":9.6},{"d":"2016-01-14","c":"G","t":10.5},{"d":"2016-01-14","c":"B","t":11.8},
{"d":"2016-01-15","c":"R","t":9.3},{"d":"2016-01-15","c":"G","t":9.9},{"d":"2016-01-15","c":"B","t":11.8},
{"d":"2016-01-16","c":"R","t":9.6},{"d":"2016-01-16","c":"G","t":10.2},{"d":"2016-01-16","c":"B","t":10.6},
{"d":"2016-01-17","c":"R","t":9.3},{"d":"2016-01-17","c":"G","t":9.8},{"d":"2016-01-17","c":"B","t":10.8},
{"d":"2016-01-18","c":"R","t":6.3},{"d":"2016-01-18","c":"G","t":6.5},{"d":"2016-01-18","c":"B","t":6.3},
{"d":"2016-01-19","c":"R","t":6.3},{"d":"2016-01-19","c":"G","t":6.8},{"d":"2016-01-19","c":"B","t":6.6},
{"d":"2016-01-20","c":"R","t":7.5},{"d":"2016-01-20","c":"G","t":7.8},{"d":"2016-01-20","c":"B","t":8.9},
{"d":"2016-01-21","c":"R","t":9.9},{"d":"2016-01-21","c":"G","t":10.0},{"d":"2016-01-21","c":"B","t":10.3},
{"d":"2016-01-22","c":"R","t":9.9},{"d":"2016-01-22","c":"G","t":10.3},{"d":"2016-01-22","c":"B","t":11.1},
{"d":"2016-01-23","c":"R","t":6.9},{"d":"2016-01-23","c":"G","t":7.6},{"d":"2016-01-23","c":"B","t":8.3},
{"d":"2016-01-24","c":"R","t":6.0},{"d":"2016-01-24","c":"G","t":5.3},{"d":"2016-01-24","c":"B","t":6.8},
{"d":"2016-01-25","c":"R","t":5.8},{"d":"2016-01-25","c":"G","t":4.8},{"d":"2016-01-25","c":"B","t":6.1}
],
"wp": [
{"d":"2015-05-21","c":"R","v":46000,"e":9000,"w":86000,"f":8000},{"d":"2015-05-21","c":"G","v":50000,"e":9000,"w":74000,"f":9000},{"d":"2015-05-21","c":"B","v":33000,"e":7000,"w":56000,"f":6000},
{"d":"2015-05-22","c":"R","v":63000,"e":10000,"w":95000,"f":12000},{"d":"2015-05-22","c":"G","v":61000,"e":12000,"w":91000,"f":12000},{"d":"2015-05-22","c":"B","v":37000,"e":8000,"w":65000,"f":7000},
{"d":"2015-05-25","c":"R","v":55000,"e":10000,"w":93000,"f":10000},{"d":"2015-05-25","c":"G","v":60000,"e":11000,"w":91000,"f":11000},{"d":"2015-05-25","c":"B","v":59000,"e":10000,"w":98000,"f":10000},
{"d":"2015-05-27","c":"R","v":56000,"e":9000,"w":90000,"f":10000},{"d":"2015-05-27","c":"G","v":50000,"e":9000,"w":89000,"f":10000},{"d":"2015-05-27","c":"B","v":46000,"e":9000,"w":81000,"f":9000},
{"d":"2015-05-30","c":"R","v":52000,"e":10000,"w":91000,"f":10000},{"d":"2015-05-30","c":"G","v":57000,"e":10000,"w":82000,"f":11000},{"d":"2015-05-30","c":"B","v":46000,"e":8000,"w":77000,"f":8000},
{"d":"2015-05-31","c":"R","v":48000,"e":9000,"w":86000,"f":10000},{"d":"2015-05-31","c":"G","v":37000,"e":6000,"w":82000,"f":9000},{"d":"2015-05-31","c":"B","v":43000,"e":8000,"w":98000,"f":10000},
{"d":"2015-06-02","c":"R","v":61000,"e":10000,"w":93000,"f":11000},{"d":"2015-06-02","c":"G","v":82000,"e":15000,"w":102000,"f":14000},{"d":"2015-06-02","c":"B","v":46000,"e":9000,"w":77000,"f":9000},
{"d":"2015-06-04","c":"R","v":74000,"e":12000,"w":91000,"f":10000},{"d":"2015-06-04","c":"G","v":68000,"e":13000,"w":100000,"f":13000},{"d":"2015-06-04","c":"B","v":60000,"e":12000,"w":85000,"f":10000},
{"d":"2015-06-06","c":"R","v":56000,"e":12000,"w":81000,"f":12000},{"d":"2015-06-06","c":"G","v":70000,"e":13000,"w":96000,"f":13000},{"d":"2015-06-06","c":"B","v":63000,"e":13000,"w":93000,"f":11000},
{"d":"2015-06-09","c":"R","v":60000,"e":11000,"w":90000,"f":12000},{"d":"2015-06-09","c":"G","v":58000,"e":13000,"w":96000,"f":14000},
{"d":"2015-06-16","c":"R","v":60000,"e":10000,"w":98000,"f":10000},{"d":"2015-06-16","c":"G","v":58000,"e":12000,"w":91000,"f":12000},{"d":"2015-06-16","c":"B","v":72000,"e":12000,"w":104000,"f":12000},
{"d":"2015-06-22","c":"R","v":77000,"e":12000,"w":110000,"f":12000},{"d":"2015-06-22","c":"G","v":68000,"e":12000,"w":104000,"f":13000},{"d":"2015-06-22","c":"B","v":64000,"e":12000,"w":95000,"f":14000},
{"d":"2015-06-23","c":"R","v":90000,"e":14000,"w":129000,"f":15000},{"d":"2015-06-23","c":"B","v":70000,"e":12000,"w":110000,"f":13000},
{"d":"2015-06-24","c":"R","v":64000,"e":9000,"w":104000,"f":13000},
{"d":"2015-06-27","c":"R","v":52000,"e":6000,"w":77000,"f":6000},
{"d":"2015-06-30","c":"G","v":70000,"e":17000,"w":104000,"f":15000},
{"d":"2015-07-07","c":"G","v":114000,"e":14000,"w":143000,"f":12000},{"d":"2015-07-07","c":"B","v":128000,"e":15000,"w":154000,"f":14000},
{"d":"2015-07-12","c":"R","v":59000,"e":15000,"w":103000,"f":18000},{"d":"2015-07-12","c":"G","v":43000,"e":14000,"w":88000,"f":12000},
{"d":"2015-07-15","c":"R","v":81000,"e":13000,"w":135000,"f":15000},{"d":"2015-07-15","c":"G","v":81000,"e":13000,"w":135000,"f":15000},{"d":"2015-07-15","c":"B","v":90000,"e":13000,"w":146000,"f":15000},
{"d":"2015-07-16","c":"G","v":76000,"e":12000,"w":129000,"f":14000},{"d":"2015-07-16","c":"B","v":61000,"e":13000,"w":118000,"f":12000},
{"d":"2015-07-20","c":"R","v":95000,"e":20000,"w":143000,"f":20000},
{"d":"2015-07-22","c":"R","v":88000,"e":14000,"w":138000,"f":15000},{"d":"2015-07-22","c":"G","v":81000,"e":13000,"w":129000,"f":14000},{"d":"2015-07-22","c":"B","v":72000,"e":12000,"w":120000,"f":13000},
{"d":"2015-07-23","c":"G","v":54000,"e":11000,"w":110000,"f":13000},
{"d":"2015-07-25","c":"R","v":78000,"e":14000,"w":125000,"f":14000},{"d":"2015-07-25","c":"G","v":70000,"e":13000,"w":112000,"f":13000},{"d":"2015-07-25","c":"B","v":66000,"e":12000,"w":116000,"f":13000},
{"d":"2015-07-26","c":"R","v":42000,"e":8000,"w":85000,"f":10000},{"d":"2015-07-26","c":"B","v":36000,"e":8000,"w":92000,"f":11000},
{"d":"2015-07-28","c":"R","v":41000,"e":8000,"w":92000,"f":10000},
{"d":"2015-08-05","c":"R","v":62000,"e":13000,"w":119000,"f":14000},{"d":"2015-08-05","c":"G","v":57000,"e":12000,"w":114000,"f":13000},{"d":"2015-08-05","c":"B","v":48000,"e":11000,"w":102000,"f":12000},
{"d":"2015-08-06","c":"R","v":50000,"e":10000,"w":102000,"f":11000},{"d":"2015-08-06","c":"G","v":36000,"e":8000,"w":91000,"f":10000},
{"d":"2015-08-07","c":"R","v":30000,"e":7000,"w":89000,"f":10000},
{"d":"2015-08-14","c":"R","v":82000,"e":20000,"w":133000,"f":25000},{"d":"2015-08-14","c":"G","v":63000,"e":12000,"w":116000,"f":13000},{"d":"2015-08-14","c":"B","v":53000,"e":12000,"w":111000,"f":13000},
{"d":"2015-08-15","c":"R","v":63000,"e":13000,"w":116000,"f":13000},{"d":"2015-08-15","c":"B","v":48000,"e":12000,"w":102000,"f":13000},
{"d":"2015-08-18","c":"R","v":86000,"e":15000,"w":126000,"f":14000},
{"d":"2015-08-21","c":"G","v":49000,"e":12000,"w":98000,"f":13000},{"d":"2015-08-21","c":"B","v":54000,"e":22000,"w":103000,"f":22000},
{"d":"2015-09-03","c":"R","v":54000,"e":17000,"w":100000,"f":13000},{"d":"2015-09-03","c":"G","v":62000,"e":12000,"w":116000,"f":14000},{"d":"2015-09-03","c":"B","v":68000,"e":20000,"w":104000,"f":13000},
{"d":"2015-09-04","c":"R","v":61000,"e":14000,"w":100000,"f":10000},{"d":"2015-09-04","c":"G","v":64000,"e":13000,"w":108000,"f":12000},{"d":"2015-09-04","c":"B","v":71000,"e":13000,"w":113000,"f":12000},
{"d":"2015-09-13","c":"R","v":101000,"e":14000,"w":124000,"f":14000},
{"d":"2015-09-14","c":"G","v":51000,"e":13000,"w":91000,"f":10000},{"d":"2015-09-14","c":"B","v":45000,"e":8000,"w":87000,"f":9000},
{"d":"2015-09-18","c":"R","v":82000,"e":14000,"w":104000,"f":13000},{"d":"2015-09-18","c":"G","v":52000,"e":8000,"w":83000,"f":11000},{"d":"2015-09-18","c":"B","v":60000,"e":12000,"w":95000,"f":12000},
{"d":"2015-09-20","c":"R","v":48000,"e":13000,"w":87000,"f":10000},{"d":"2015-09-20","c":"G","v":39000,"e":9000,"w":82000,"f":12000},
{"d":"2015-09-23","c":"R","v":30000,"e":5000,"w":67000,"f":8000},{"d":"2015-09-23","c":"G","v":31000,"e":10000,"w":68000,"f":9000},
{"d":"2015-09-29","c":"R","v":101000,"e":17000,"w":125000,"f":17000},{"d":"2015-09-29","c":"G","v":94000,"e":16000,"w":129000,"f":17000},{"d":"2015-09-29","c":"B","v":89000,"e":16000,"w":122000,"f":17000},
{"d":"2015-09-30","c":"R","v":126000,"e":19000,"w":157000,"f":20000},{"d":"2015-09-30","c":"G","v":117000,"e":18000,"w":153000,"f":20000},{"d":"2015-09-30","c":"B","v":137000,"e":25000,"w":155000,"f":22000},
{"d":"2015-10-01","c":"B","v":101000,"e":15000,"w":133000,"f":17000},
{"d":"2015-10-07","c":"R","v":58000,"e":12000,"w":75000,"f":10000},{"d":"2015-10-07","c":"G","v":51000,"e":12000,"w":77000,"f":10000},{"d":"2015-10-07","c":"B","v":49000,"e":13000,"w":84000,"f":12000},
{"d":"2015-10-09","c":"G","v":64000,"e":12000,"w":91000,"f":12000},{"d":"2015-10-09","c":"B","v":66000,"e":13000,"w":80000,"f":11000},
{"d":"2015-10-11","c":"G","v":72000,"e":12000,"w":98000,"f":13000},{"d":"2015-10-11","c":"B","v":81000,"e":18000,"w":99000,"f":18000},
{"d":"2015-10-13","c":"R","v":41000,"e":9000,"w":64000,"f":10000},{"d":"2015-10-13","c":"G","v":61000,"e":12000,"w":92000,"f":12000},{"d":"2015-10-13","c":"B","v":56000,"e":10000,"w":82000,"f":11000},
{"d":"2015-10-15","c":"R","v":68000,"e":12000,"w":94000,"f":12000},{"d":"2015-10-15","c":"B","v":67000,"e":15000,"w":91000,"f":13000},
{"d":"2015-10-22","c":"R","v":48000,"e":10000,"w":77000,"f":12000},{"d":"2015-10-22","c":"G","v":53000,"e":13000,"w":82000,"f":14000},{"d":"2015-10-22","c":"B","v":41000,"e":9000,"w":71000,"f":12000},
{"d":"2015-10-25","c":"G","v":57000,"e":12000,"w":78000,"f":12000},{"d":"2015-10-25","c":"B","v":58000,"e":12000,"w":79000,"f":12000},
{"d":"2015-10-27","c":"R","v":44000,"e":10000,"w":72000,"f":11000},{"d":"2015-10-27","c":"G","v":54000,"e":12000,"w":78000,"f":12000},{"d":"2015-10-27","c":"B","v":54000,"e":12000,"w":78000,"f":12000},
{"d":"2015-10-29","c":"R","v":39000,"e":9000,"w":67000,"f":11000},
{"d":"2015-10-31","c":"B","v":53000,"e":12000,"w":75000,"f":12000},
{"d":"2015-11-06","c":"R","v":62000,"e":15000,"w":78000,"f":16000},{"d":"2015-11-06","c":"G","v":38000,"e":15000,"w":60000,"f":13000},
{"d":"2015-11-11","c":"R","v":58000,"e":15000,"w":66000,"f":15000},{"d":"2015-11-11","c":"G","v":48000,"e":12000,"w":54000,"f":12000},{"d":"2015-11-11","c":"B","v":53000,"e":14000,"w":59000,"f":14000},
{"d":"2015-11-17","c":"G","v":62000,"e":13000,"w":85000,"f":13000},{"d":"2015-11-17","c":"B","v":54000,"e":12000,"w":77000,"f":13000},
{"d":"2015-11-20","c":"R","v":110000,"e":16000,"w":110000,"f":15000},{"d":"2015-11-20","c":"B","v":94000,"e":15000,"w":100000,"f":15000},
{"d":"2015-11-21","c":"R","v":101000,"e":15000,"w":115000,"f":16000},{"d":"2015-11-21","c":"B","v":78000,"e":13000,"w":79000,"f":12000},
{"d":"2015-11-22","c":"G","v":83000,"e":14000,"w":98000,"f":13000},{"d":"2015-11-22","c":"B","v":70000,"e":12000,"w":79000,"f":12000},
{"d":"2015-11-23","c":"G","v":101000,"e":16000,"w":114000,"f":16000},{"d":"2015-11-23","c":"B","v":90000,"e":15000,"w":104000,"f":15000},
{"d":"2015-11-25","c":"B","v":83000,"e":14000,"w":85000,"f":13000},
{"d":"2015-11-26","c":"B","v":86000,"e":14000,"w":82000,"f":13000},
{"d":"2015-11-27","c":"R","v":64000,"e":11000,"w":58000,"f":9000},
{"d":"2015-11-28","c":"G","v":94000,"e":15000,"w":91000,"f":14000},{"d":"2015-11-28","c":"B","v":117000,"e":18000,"w":113000,"f":16000},
{"d":"2015-11-29","c":"R","v":112000,"e":17000,"w":102000,"f":15000},{"d":"2015-11-29","c":"G","v":90000,"e":14000,"w":107000,"f":15000},
{"d":"2015-11-30","c":"G","v":108000,"e":16000,"w":84000,"f":13000},{"d":"2015-11-30","c":"B","v":101000,"e":16000,"w":98000,"f":14000},
{"d":"2015-12-01","c":"G","v":79000,"e":13000,"w":84000,"f":12000},{"d":"2015-12-01","c":"B","v":70000,"e":12000,"w":75000,"f":12000},
{"d":"2015-12-02","c":"G","v":67000,"e":12000,"w":64000,"f":11000},{"d":"2015-12-02","c":"B","v":72000,"e":12000,"w":82000,"f":12000},
{"d":"2015-12-03","c":"R","v":111000,"e":16000,"w":104000,"f":15000},
{"d":"2015-12-04","c":"R","v":99000,"e":15000,"w":87000,"f":13000},{"d":"2015-12-04","c":"G","v":108000,"e":16000,"w":96000,"f":14000},
{"d":"2015-12-05","c":"G","v":129000,"e":18000,"w":115000,"f":16000},{"d":"2015-12-05","c":"B","v":122000,"e":18000,"w":125000,"f":17000},
{"d":"2015-12-06","c":"R","v":79000,"e":13000,"w":76000,"f":12000},{"d":"2015-12-06","c":"B","v":99000,"e":15000,"w":99000,"f":15000},
{"d":"2015-12-07","c":"R","v":89000,"e":14000,"w":85000,"f":13000},{"d":"2015-12-07","c":"G","v":101000,"e":15000,"w":91000,"f":14000},
{"d":"2015-12-08","c":"G","v":99000,"e":15000,"w":93000,"f":14000},
{"d":"2015-12-09","c":"G","v":114000,"e":17000,"w":111000,"f":16000},
{"d":"2015-12-10","c":"B","v":128000,"e":19000,"w":127000,"f":18000},
{"d":"2015-12-14","c":"G","v":152000,"e":24000,"w":149000,"f":22000},{"d":"2015-12-14","c":"B","v":126000,"e":26000,"w":123000,"f":25000},
{"d":"2015-12-16","c":"R","v":66000,"e":13000,"w":84000,"f":17000},{"d":"2015-12-16","c":"G","v":83000,"e":16000,"w":100000,"f":16000},{"d":"2015-12-16","c":"B","v":100000,"e":20000,"w":115000,"f":18000},
{"d":"2015-12-17","c":"R","v":117000,"e":20000,"w":107000,"f":17000},{"d":"2015-12-17","c":"G","v":152000,"e":26000,"w":146000,"f":22000},{"d":"2015-12-17","c":"B","v":159000,"e":28000,"w":155000,"f":25000},
{"d":"2015-12-18","c":"R","v":130000,"e":22000,"w":115000,"f":18000},{"d":"2015-12-18","c":"G","v":174000,"e":26000,"w":158000,"f":25000},
{"d":"2015-12-19","c":"B","v":167000,"e":30000,"w":165000,"f":30000},
{"d":"2015-12-20","c":"G","v":146000,"e":22000,"w":136000,"f":20000},{"d":"2015-12-20","c":"B","v":137000,"e":22000,"w":129000,"f":20000},
{"d":"2015-12-21","c":"R","v":80000,"e":10000,"w":79000,"f":9000},{"d":"2015-12-21","c":"G","v":78000,"e":10000,"w":76000,"f":8000},{"d":"2015-12-21","c":"B","v":89000,"e":13000,"w":89000,"f":13000},
{"d":"2015-12-26","c":"B","v":127000,"e":22000,"w":123000,"f":22000},
{"d":"2015-12-27","c":"G","v":160000,"e":26000,"w":159000,"f":25000},{"d":"2015-12-27","c":"B","v":109000,"e":18000,"w":109000,"f":17000},
{"d":"2015-12-28","c":"R","v":117000,"e":18000,"w":101000,"f":16000},
{"d":"2015-12-29","c":"G","v":144000,"e":22000,"w":134000,"f":22000},{"d":"2015-12-29","c":"B","v":141000,"e":28000,"w":127000,"f":22000},
{"d":"2015-12-30","c":"G","v":134000,"e":20000,"w":120000,"f":18000},{"d":"2015-12-30","c":"B","v":100000,"e":17000,"w":91000,"f":15000},
{"d":"2015-12-31","c":"R","v":110000,"e":18000,"w":97000,"f":16000},{"d":"2015-12-31","c":"B","v":126000,"e":20000,"w":113000,"f":17000},
{"d":"2016-01-01","c":"B","v":133000,"e":20000,"w":125000,"f":18000},
{"d":"2016-01-02","c":"R","v":58000,"e":12000,"w":40000,"f":10000},{"d":"2016-01-02","c":"G","v":64000,"e":12000,"w":56000,"f":11000},{"d":"2016-01-02","c":"B","v":53000,"e":12000,"w":49000,"f":10000},
{"d":"2016-01-03","c":"G","v":48000,"e":10000,"w":58000,"f":10000},{"d":"2016-01-03","c":"B","v":97000,"e":15000,"w":97000,"f":15000},
{"d":"2016-01-04","c":"B","v":68000,"e":13000,"w":73000,"f":13000},
{"d":"2016-01-05","c":"G","v":121000,"e":18000,"w":122000,"f":18000},{"d":"2016-01-05","c":"B","v":111000,"e":17000,"w":109000,"f":17000},
{"d":"2016-01-06","c":"R","v":92000,"e":14000,"w":80000,"f":12000},{"d":"2016-01-06","c":"G","v":77000,"e":13000,"w":90000,"f":13000},{"d":"2016-01-06","c":"B","v":81000,"e":14000,"w":85000,"f":13000},
{"d":"2016-01-07","c":"R","v":57000,"e":11000,"w":47000,"f":10000},{"d":"2016-01-07","c":"G","v":54000,"e":11000,"w":65000,"f":11000},{"d":"2016-01-07","c":"B","v":72000,"e":13000,"w":69000,"f":12000},
{"d":"2016-01-08","c":"G","v":70000,"e":12000,"w":68000,"f":11000},
{"d":"2016-01-09","c":"R","v":103000,"e":16000,"w":89000,"f":14000},{"d":"2016-01-09","c":"G","v":112000,"e":17000,"w":101000,"f":15000},{"d":"2016-01-09","c":"B","v":102000,"e":16000,"w":98000,"f":15000},
{"d":"2016-01-10","c":"G","v":81000,"e":13000,"w":68000,"f":11000},{"d":"2016-01-10","c":"B","v":88000,"e":14000,"w":76000,"f":12000},
{"d":"2016-01-13","c":"R","v":134000,"e":22000,"w":115000,"f":20000},{"d":"2016-01-13","c":"B","v":121000,"e":20000,"w":107000,"f":17000},
{"d":"2016-01-14","c":"G","v":158000,"e":26000,"w":143000,"f":22000},{"d":"2016-01-14","c":"B","v":148000,"e":24000,"w":138000,"f":22000},
{"d":"2016-01-15","c":"R","v":125000,"e":20000,"w":110000,"f":18000},{"d":"2016-01-15","c":"G","v":130000,"e":21000,"w":115000,"f":18000},{"d":"2016-01-15","c":"B","v":138000,"e":22000,"w":122000,"f":20000},
{"d":"2016-01-16","c":"G","v":121000,"e":20000,"w":108000,"f":17000},
{"d":"2016-01-17","c":"R","v":120000,"e":20000,"w":104000,"f":17000},{"d":"2016-01-17","c":"B","v":126000,"e":20000,"w":113000,"f":18000},
{"d":"2016-01-19","c":"R","v":70000,"e":13000,"w":42000,"f":10000},{"d":"2016-01-19","c":"G","v":100000,"e":20000,"w":60000,"f":12000},{"d":"2016-01-19","c":"B","v":79000,"e":15000,"w":55000,"f":12000},
{"d":"2016-01-20","c":"G","v":86000,"e":15000,"w":32000,"f":12000},{"d":"2016-01-20","c":"B","v":94000,"e":16000,"w":76000,"f":14000},
{"d":"2016-01-21","c":"G","v":48000,"e":16000,"w":45000,"f":12000},
{"d":"2016-01-22","c":"R","v":89000,"e":17000,"w":73000,"f":20000},{"d":"2016-01-22","c":"G","v":66000,"e":14000,"w":52000,"f":12000},{"d":"2016-01-22","c":"B","v":57000,"e":17000,"w":46000,"f":12000},
{"d":"2016-01-25","c":"R","v":77000,"e":15000,"w":48000,"f":12000},{"d":"2016-01-25","c":"G","v":52000,"e":16000,"w":22000,"f":20000},{"d":"2016-01-25","c":"B","v":92000,"e":17000,"w":65000,"f":17000}
]
},
"vconcat": [
{
 "width": 1046, "height": 332,
 "layer": [
  {"data": {"values": [{}]}, "mark": {"type": "rule", "color": "#777", "strokeWidth": 1.5},
   "encoding": {"y": {"datum": 36.4, "type": "quantitative", "scale": {"domain": [3.2, 36.4], "nice": false, "zero": false}}}},
  {"data": {"values": [{}]}, "mark": {"type": "rule", "color": "#777", "strokeWidth": 1.5},
   "encoding": {"x": {"datum": {"year": 2016, "month": 2, "date": 1, "utc": true}, "type": "temporal", "scale": {"type": "utc", "domain": [{"year": 2015, "month": 5, "date": 1, "utc": true}, {"year": 2016, "month": 2, "date": 1, "utc": true}]}}}},
  {"data": {"name": "temp"}, "mark": {"type": "circle", "size": 118, "opacity": 1},
   "encoding": {
    "x": {"field": "d", "type": "temporal", "scale": {"type": "utc", "domain": [{"year": 2015, "month": 5, "date": 1, "utc": true}, {"year": 2016, "month": 2, "date": 1, "utc": true}]},
      "axis": {"values": [{"year": 2015, "month": 5, "date": 1, "utc": true}, {"year": 2015, "month": 6, "date": 1, "utc": true}, {"year": 2015, "month": 7, "date": 1, "utc": true}, {"year": 2015, "month": 8, "date": 1, "utc": true}, {"year": 2015, "month": 9, "date": 1, "utc": true}, {"year": 2015, "month": 10, "date": 1, "utc": true}, {"year": 2015, "month": 11, "date": 1, "utc": true}, {"year": 2015, "month": 12, "date": 1, "utc": true}, {"year": 2016, "month": 1, "date": 1, "utc": true}, {"year": 2016, "month": 2, "date": 1, "utc": true}], "labels": false, "ticks": false, "domain": false, "grid": true, "title": null}},
    "y": {"field": "t", "type": "quantitative", "scale": {"domain": [3.2, 36.4], "nice": false, "zero": false},
      "axis": {"values": [5, 10, 15, 20, 25, 30, 35], "labelExpr": "datum.value % 10 == 0 ? datum.label : ''", "title": "Temp (degC)", "titleX": -172, "titleY": 166, "titleAngle": -90, "titleAlign": "center", "titleBaseline": "middle", "labelPadding": 8,
        "tickSize": {"condition": {"test": "datum.value % 10 != 0", "value": 10}, "value": 21},
        "gridOpacity": {"condition": {"test": "datum.value % 10 != 0", "value": 0}, "value": 1}}},
    "color": {"field": "c", "type": "nominal", "scale": {"domain": ["R", "G", "B"], "range": ["#e2412e", "#30e630", "#1238df"]}, "legend": null},
    "order": {"field": "c", "sort": "descending"}
   }},
  {"data": {"values": [{"label": "三島の気温"}]}, "mark": {"type": "text", "align": "left", "baseline": "middle", "font": "Noto Sans CJK JP", "fontSize": 31, "color": "#333"},
   "encoding": {"text": {"field": "label"},
    "x": {"datum": {"year": 2015, "month": 5, "date": 9, "utc": true}, "type": "temporal", "scale": {"type": "utc", "domain": [{"year": 2015, "month": 5, "date": 1, "utc": true}, {"year": 2016, "month": 2, "date": 1, "utc": true}]}},
    "y": {"datum": 32.2, "type": "quantitative", "scale": {"domain": [3.2, 36.4], "nice": false, "zero": false}}}}
 ]
},
{
 "width": 1046, "height": 332,
 "layer": [
  {"data": {"values": [{}]}, "mark": {"type": "rule", "color": "#777", "strokeWidth": 1.5},
   "encoding": {"x": {"datum": {"year": 2016, "month": 2, "date": 1, "utc": true}, "type": "temporal", "scale": {"type": "utc", "domain": [{"year": 2015, "month": 5, "date": 1, "utc": true}, {"year": 2016, "month": 2, "date": 1, "utc": true}]}}}},
  {"data": {"name": "wp"}, "mark": {"type": "errorbar", "ticks": {"size": 12, "color": "#222"}, "rule": {"strokeWidth": 1.2}, "color": "#222"},
   "encoding": {
    "x": {"field": "d", "type": "temporal", "scale": {"type": "utc", "domain": [{"year": 2015, "month": 5, "date": 1, "utc": true}, {"year": 2016, "month": 2, "date": 1, "utc": true}]},
      "axis": {"values": [{"year": 2015, "month": 5, "date": 1, "utc": true}, {"year": 2015, "month": 6, "date": 1, "utc": true}, {"year": 2015, "month": 7, "date": 1, "utc": true}, {"year": 2015, "month": 8, "date": 1, "utc": true}, {"year": 2015, "month": 9, "date": 1, "utc": true}, {"year": 2015, "month": 10, "date": 1, "utc": true}, {"year": 2015, "month": 11, "date": 1, "utc": true}, {"year": 2015, "month": 12, "date": 1, "utc": true}, {"year": 2016, "month": 1, "date": 1, "utc": true}, {"year": 2016, "month": 2, "date": 1, "utc": true}], "labels": false, "ticks": false, "domain": false, "grid": true, "title": null}},
    "y": {"field": "v", "type": "quantitative", "scale": {"domain": [-1333, 220000], "nice": false, "zero": false},
      "axis": {"values": [0, 50000, 100000, 150000, 200000], "labelExpr": "datum.value == 200000 ? '2×10⁵' : datum.value == 100000 ? '1' : datum.value == 0 ? '0' : ''", "title": "White Pixel Num.", "titleX": -172, "titleY": 166, "titleAngle": -90, "titleAlign": "center", "titleBaseline": "middle", "labelPadding": 8,
        "tickSize": {"condition": {"test": "datum.value % 100000 != 0", "value": 10}, "value": 21},
        "gridOpacity": {"condition": {"test": "datum.value % 100000 != 0", "value": 0}, "value": 1}}},
    "yError": {"field": "e"}
   }},
  {"data": {"name": "wp"}, "mark": {"type": "circle", "size": 118, "opacity": 1},
   "encoding": {
    "x": {"field": "d", "type": "temporal", "scale": {"type": "utc", "domain": [{"year": 2015, "month": 5, "date": 1, "utc": true}, {"year": 2016, "month": 2, "date": 1, "utc": true}]}},
    "y": {"field": "v", "type": "quantitative", "scale": {"domain": [-1333, 220000], "nice": false, "zero": false}},
    "color": {"field": "c", "type": "nominal", "scale": {"domain": ["R", "G", "B"], "range": ["#e2412e", "#30e630", "#1238df"]}, "legend": null},
    "order": {"field": "c", "sort": "descending"}
   }},
  {"data": {"values": [{"label": "気温補正無し"}]}, "mark": {"type": "text", "align": "left", "baseline": "middle", "font": "Noto Sans CJK JP", "fontSize": 31, "color": "#333"},
   "encoding": {"text": {"field": "label"},
    "x": {"datum": {"year": 2015, "month": 5, "date": 8, "utc": true}, "type": "temporal", "scale": {"type": "utc", "domain": [{"year": 2015, "month": 5, "date": 1, "utc": true}, {"year": 2016, "month": 2, "date": 1, "utc": true}]}},
    "y": {"datum": 190000, "type": "quantitative", "scale": {"domain": [-1333, 220000], "nice": false, "zero": false}}}}
 ]
},
{
 "width": 1046, "height": 331,
 "layer": [
  {"data": {"values": [{}]}, "mark": {"type": "rule", "color": "#777", "strokeWidth": 1.5},
   "encoding": {"x": {"datum": {"year": 2016, "month": 2, "date": 1, "utc": true}, "type": "temporal", "scale": {"type": "utc", "domain": [{"year": 2015, "month": 5, "date": 1, "utc": true}, {"year": 2016, "month": 2, "date": 1, "utc": true}]}}}},
  {"data": {"name": "wp"}, "mark": {"type": "errorbar", "ticks": {"size": 12, "color": "#222"}, "rule": {"strokeWidth": 1.2}, "color": "#222"},
   "encoding": {
    "x": {"field": "d", "type": "temporal", "scale": {"type": "utc", "domain": [{"year": 2015, "month": 5, "date": 1, "utc": true}, {"year": 2016, "month": 2, "date": 1, "utc": true}]},
      "axis": {"values": [{"year": 2015, "month": 5, "date": 1, "utc": true}, {"year": 2015, "month": 6, "date": 1, "utc": true}, {"year": 2015, "month": 7, "date": 1, "utc": true}, {"year": 2015, "month": 8, "date": 1, "utc": true}, {"year": 2015, "month": 9, "date": 1, "utc": true}, {"year": 2015, "month": 10, "date": 1, "utc": true}, {"year": 2015, "month": 11, "date": 1, "utc": true}, {"year": 2015, "month": 12, "date": 1, "utc": true}, {"year": 2016, "month": 1, "date": 1, "utc": true}, {"year": 2016, "month": 2, "date": 1, "utc": true}],
        "labelExpr": "(utcmonth(datum.value) + 1) + '月'", "labelAlign": "center", "labelFontSize": 28, "tickSize": 17, "labelPadding": 9, "labelFlush": false, "labelOverlap": false, "domain": true, "grid": true, "domainColor": "#444",
        "title": "2015 - 2016", "titleFontSize": 31, "titleX": 1015, "titleY": 77, "titleAlign": "right", "titleBaseline": "middle", "titleAnchor": null}},
    "y": {"field": "w", "type": "quantitative", "scale": {"domain": [0, 218500], "nice": false, "zero": false},
      "axis": {"values": [0, 50000, 100000, 150000, 200000], "labelExpr": "datum.value == 200000 ? '2×10⁵' : datum.value == 100000 ? '1' : datum.value == 0 ? '0' : ''", "title": "White Pixel Num.", "titleX": -172, "titleY": 165, "titleAngle": -90, "titleAlign": "center", "titleBaseline": "middle", "labelPadding": 8,
        "tickSize": {"condition": {"test": "datum.value % 100000 != 0", "value": 10}, "value": 21},
        "gridOpacity": {"condition": {"test": "datum.value % 100000 != 0", "value": 0}, "value": 1}}},
    "yError": {"field": "f"}
   }},
  {"data": {"name": "wp"}, "mark": {"type": "circle", "size": 118, "opacity": 1},
   "encoding": {
    "x": {"field": "d", "type": "temporal", "scale": {"type": "utc", "domain": [{"year": 2015, "month": 5, "date": 1, "utc": true}, {"year": 2016, "month": 2, "date": 1, "utc": true}]}},
    "y": {"field": "w", "type": "quantitative", "scale": {"domain": [0, 218500], "nice": false, "zero": false}},
    "color": {"field": "c", "type": "nominal", "scale": {"domain": ["R", "G", "B"], "range": ["#e2412e", "#30e630", "#1238df"]}, "legend": null},
    "order": {"field": "c", "sort": "descending"}
   }},
  {"data": {"values": [{"label": "気温補正済"}]}, "mark": {"type": "text", "align": "left", "baseline": "middle", "font": "Noto Sans CJK JP", "fontSize": 31, "color": "#333"},
   "encoding": {"text": {"field": "label"},
    "x": {"datum": {"year": 2015, "month": 5, "date": 8, "utc": true}, "type": "temporal", "scale": {"type": "utc", "domain": [{"year": 2015, "month": 5, "date": 1, "utc": true}, {"year": 2016, "month": 2, "date": 1, "utc": true}]}},
    "y": {"datum": 188800, "type": "quantitative", "scale": {"domain": [0, 218500], "nice": false, "zero": false}}}}
 ]
}
]
}
